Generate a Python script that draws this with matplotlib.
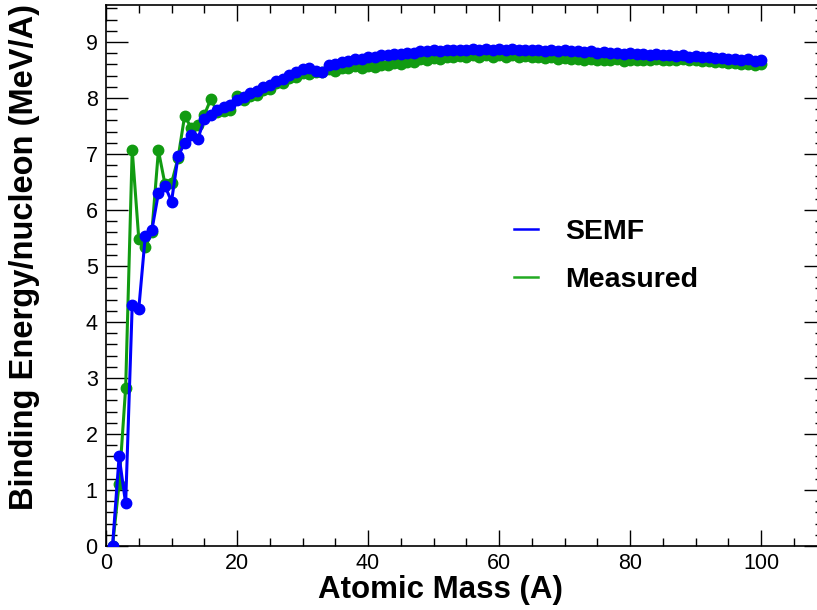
import matplotlib
matplotlib.use('Agg')
import matplotlib.pyplot as plt
from matplotlib.lines import Line2D
from matplotlib.ticker import MultipleLocator

plt.rcParams['font.family'] = ['Liberation Sans', 'DejaVu Sans']

# atomic mass number
A = list(range(1, 101))

# binding energy per nucleon from the semi-empirical mass formula (MeV)
semf = [0.00, 1.60, 0.76, 4.30, 4.23, 5.54, 5.64, 6.30, 6.43, 6.15,
        6.96, 7.19, 7.34, 7.26, 7.62, 7.70, 7.78, 7.84, 7.88, 7.97,
        8.01, 8.08, 8.13, 8.20, 8.24, 8.30, 8.34, 8.41, 8.46, 8.52,
        8.53, 8.48, 8.46, 8.58, 8.61, 8.65, 8.66, 8.69, 8.70, 8.73,
        8.74, 8.76, 8.77, 8.79, 8.79, 8.81, 8.81, 8.83, 8.83, 8.85,
        8.84, 8.86, 8.85, 8.86, 8.86, 8.87, 8.86, 8.87, 8.86, 8.87,
        8.86, 8.87, 8.85, 8.86, 8.85, 8.86, 8.84, 8.85, 8.84, 8.85,
        8.83, 8.84, 8.82, 8.83, 8.81, 8.82, 8.80, 8.81, 8.79, 8.80,
        8.78, 8.79, 8.77, 8.78, 8.76, 8.77, 8.75, 8.76, 8.74, 8.75,
        8.73, 8.73, 8.71, 8.72, 8.70, 8.70, 8.68, 8.69, 8.66, 8.67]

# measured binding energy per nucleon (MeV)
measured = [0.000, 1.112, 2.827, 7.074, 5.490, 5.332, 5.606, 7.062, 6.463, 6.475,
            6.928, 7.680, 7.470, 7.520, 7.699, 7.976, 7.751, 7.767, 7.779, 8.032,
            7.97, 8.03, 8.06, 8.15, 8.16, 8.26, 8.27, 8.36, 8.38, 8.44,
            8.43, 8.46, 8.47, 8.52, 8.49, 8.53, 8.53, 8.57, 8.54, 8.57,
            8.56, 8.59, 8.58, 8.62, 8.60, 8.64, 8.64, 8.69, 8.68, 8.71,
            8.70, 8.74, 8.73, 8.75, 8.74, 8.76, 8.74, 8.76, 8.74, 8.76,
            8.74, 8.76, 8.73, 8.75, 8.73, 8.74, 8.72, 8.73, 8.70, 8.71,
            8.69, 8.70, 8.68, 8.69, 8.67, 8.68, 8.67, 8.69, 8.66, 8.68,
            8.67, 8.68, 8.67, 8.69, 8.67, 8.68, 8.67, 8.69, 8.67, 8.68,
            8.66, 8.66, 8.64, 8.64, 8.62, 8.63, 8.61, 8.61, 8.59, 8.60]

blue = '#0000ff'
green = '#119b11'

fig = plt.figure(figsize=(8.17, 6.10), dpi=100)
# frame runs a bit past the right edge of the picture (as in the reference)
ax = fig.add_axes([106/817, 1 - 546/610, 720/817, 541/610])

ax.plot(A, measured, color=green, lw=2.2, marker='o', ms=7.5, zorder=2)
ax.plot(A, semf, color=blue, lw=2.2, marker='o', ms=7.5, zorder=3)

ax.set_xlim(0, 109.9)
ax.set_ylim(0, 9.66)

ax.xaxis.set_major_locator(MultipleLocator(20))
ax.xaxis.set_minor_locator(MultipleLocator(5))
ax.yaxis.set_major_locator(MultipleLocator(1))
ax.yaxis.set_minor_locator(MultipleLocator(0.2))

ax.tick_params(which='both', direction='in', top=True, right=True, width=1.0,
               labelsize=15.5, colors='black')
ax.tick_params(axis='x', which='major', length=11.5, pad=5)
ax.tick_params(axis='x', which='minor', length=5.8)
ax.tick_params(axis='y', which='major', length=15.8, pad=6)
ax.tick_params(axis='y', which='minor', length=7.9)
for s in ax.spines.values():
    s.set_linewidth(1.2)

ax.set_xlabel('Atomic Mass (A)', fontsize=22.5, fontweight='bold', va='center')
ax.xaxis.set_label_coords(0.464, -0.081)
ax.set_ylabel('Binding Energy/nucleon (MeV/A)', fontsize=23.5, fontweight='bold', va='center')
ax.yaxis.set_label_coords(-0.1125, 0.534)

# legend: line samples only, no frame
handles = [Line2D([], [], color=blue, lw=1.8), Line2D([], [], color='#22aa22', lw=1.8)]
fig.legend(handles, ['SEMF', 'Measured'], loc='center left',
           bbox_to_anchor=(514/817, 1 - 256/610), frameon=False,
           prop={'weight': 'bold', 'size': 20.5}, handlelength=0.85,
           handletextpad=0.95, labelspacing=0.8, borderpad=0, borderaxespad=0)

fig.savefig('out.png', dpi=100)
